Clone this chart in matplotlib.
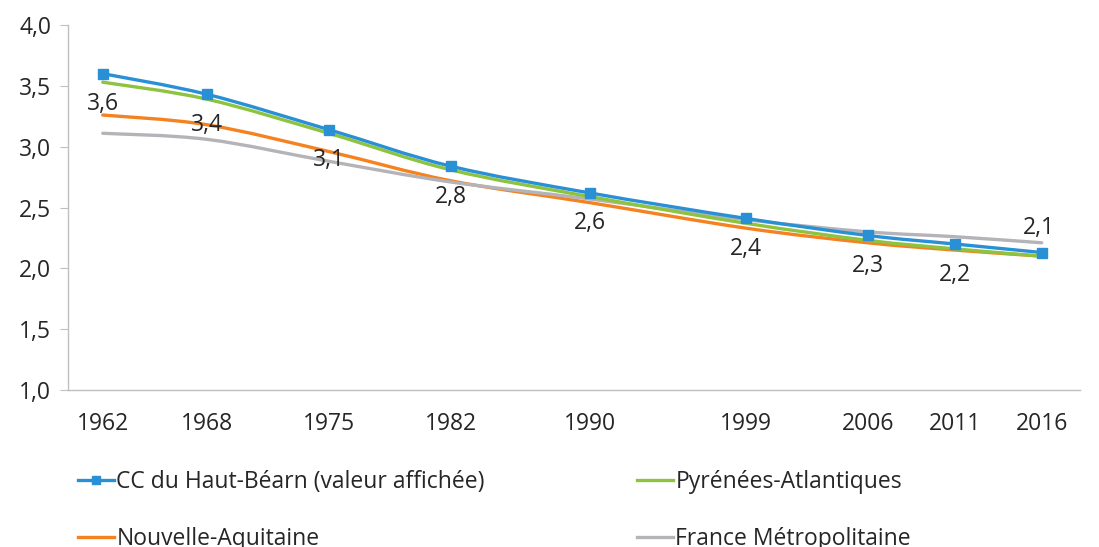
import numpy as np
import matplotlib.pyplot as plt
from matplotlib.path import Path
from matplotlib.patches import PathPatch
from matplotlib.lines import Line2D

plt.rcParams['font.family'] = ['Open Sans', 'DejaVu Sans']

years = [1962, 1968, 1975, 1982, 1990, 1999, 2006, 2011, 2016]
haut_bearn = [3.60, 3.43, 3.14, 2.84, 2.62, 2.41, 2.27, 2.20, 2.13]
pyr_atl = [3.53, 3.39, 3.11, 2.81, 2.59, 2.37, 2.23, 2.16, 2.10]
nouv_aq = [3.26, 3.18, 2.96, 2.72, 2.54, 2.33, 2.21, 2.15, 2.10]
france = [3.11, 3.06, 2.88, 2.71, 2.57, 2.40, 2.30, 2.26, 2.21]
labels_hb = ['3,6', '3,4', '3,1', '2,8', '2,6', '2,4', '2,3', '2,2', '2,1']

C_HB = '#2990D6'
C_PA = '#8DC33F'
C_NA = '#F58220'
C_FR = '#B4B4B8'
TXT = '#262626'
FS = 16.5

series = [
    (nouv_aq, C_NA),
    (france, C_FR),
    (pyr_atl, C_PA),
    (haut_bearn, C_HB),
]


def smooth_path(x, y):
    # bezier segments, like a spreadsheet "smoothed line"
    x = np.asarray(x, float)
    y = np.asarray(y, float)
    n = len(x)
    verts = [(x[0], y[0])]
    codes = [Path.MOVETO]
    for i in range(n - 1):
        x0, y0 = (x[i - 1], y[i - 1]) if i > 0 else (x[i], y[i])
        x3, y3 = (x[i + 2], y[i + 2]) if i + 2 < n else (x[i + 1], y[i + 1])
        c1 = (x[i] + (x[i + 1] - x0) / 6, y[i] + (y[i + 1] - y0) / 6)
        c2 = (x[i + 1] - (x3 - x[i]) / 6, y[i + 1] - (y3 - y[i]) / 6)
        verts += [c1, c2, (x[i + 1], y[i + 1])]
        codes += [Path.CURVE4] * 3
    return Path(verts, codes)


fig = plt.figure(figsize=(10.99, 5.47), dpi=100)
ax = fig.add_axes([68 / 1099, 1 - 390 / 547, (1080 - 68) / 1099, 365 / 547])

for vals, col in series:
    ax.add_patch(PathPatch(smooth_path(years, vals), fill=False, edgecolor=col,
                           lw=2.4, capstyle='round', joinstyle='round'))

ax.plot(years, haut_bearn, linestyle='none', marker='s', ms=6.5, color=C_HB, zorder=5)

# data labels for Haut-Béarn (last one sits above the point)
for i, (xv, yv, lab) in enumerate(zip(years, haut_bearn, labels_hb)):
    if i == len(years) - 1:
        off = (-2, 18)
    else:
        off = (0, -22)
    ax.annotate(lab, (xv, yv), xytext=off, textcoords='offset points',
                ha='center', va='center', fontsize=FS, color=TXT)

ax.set_xlim(1960.0, 2018.2)
ax.set_ylim(1.0, 4.0)
ax.set_xticks(years)
ax.set_xticklabels([str(y) for y in years])
yt = np.arange(1.0, 4.01, 0.5)
ax.set_yticks(yt)
ax.set_yticklabels([f'{v:.1f}'.replace('.', ',') for v in yt])

for s in ['top', 'right']:
    ax.spines[s].set_visible(False)
for s in ['left', 'bottom']:
    ax.spines[s].set_color('#BFBFBF')
    ax.spines[s].set_linewidth(1.0)
ax.tick_params(axis='y', length=6, color='#BFBFBF', labelsize=FS, labelcolor=TXT, pad=6)
ax.tick_params(axis='x', length=0, labelsize=FS, labelcolor=TXT, pad=16)

# column-wise fill: col 1 = HB, NA ; col 2 = PA, FR
handles = [
    Line2D([], [], color=C_HB, lw=2.4, marker='s', ms=5.5),
    Line2D([], [], color=C_NA, lw=2.4),
    Line2D([], [], color=C_PA, lw=2.4),
    Line2D([], [], color=C_FR, lw=2.4),
]
names = ['CC du Haut-Béarn (valeur affichée)', 'Nouvelle-Aquitaine',
         'Pyrénées-Atlantiques', 'France Métropolitaine']
fig.legend(handles, names, loc='upper left', bbox_to_anchor=(78 / 1099, 1 - 470 / 547),
           ncol=2, frameon=False, fontsize=FS, handlelength=1.55, handletextpad=0.12,
           labelspacing=1.45, columnspacing=6.65, borderaxespad=0, borderpad=0,
           labelcolor=TXT)

fig.savefig('out.png', dpi=100)
